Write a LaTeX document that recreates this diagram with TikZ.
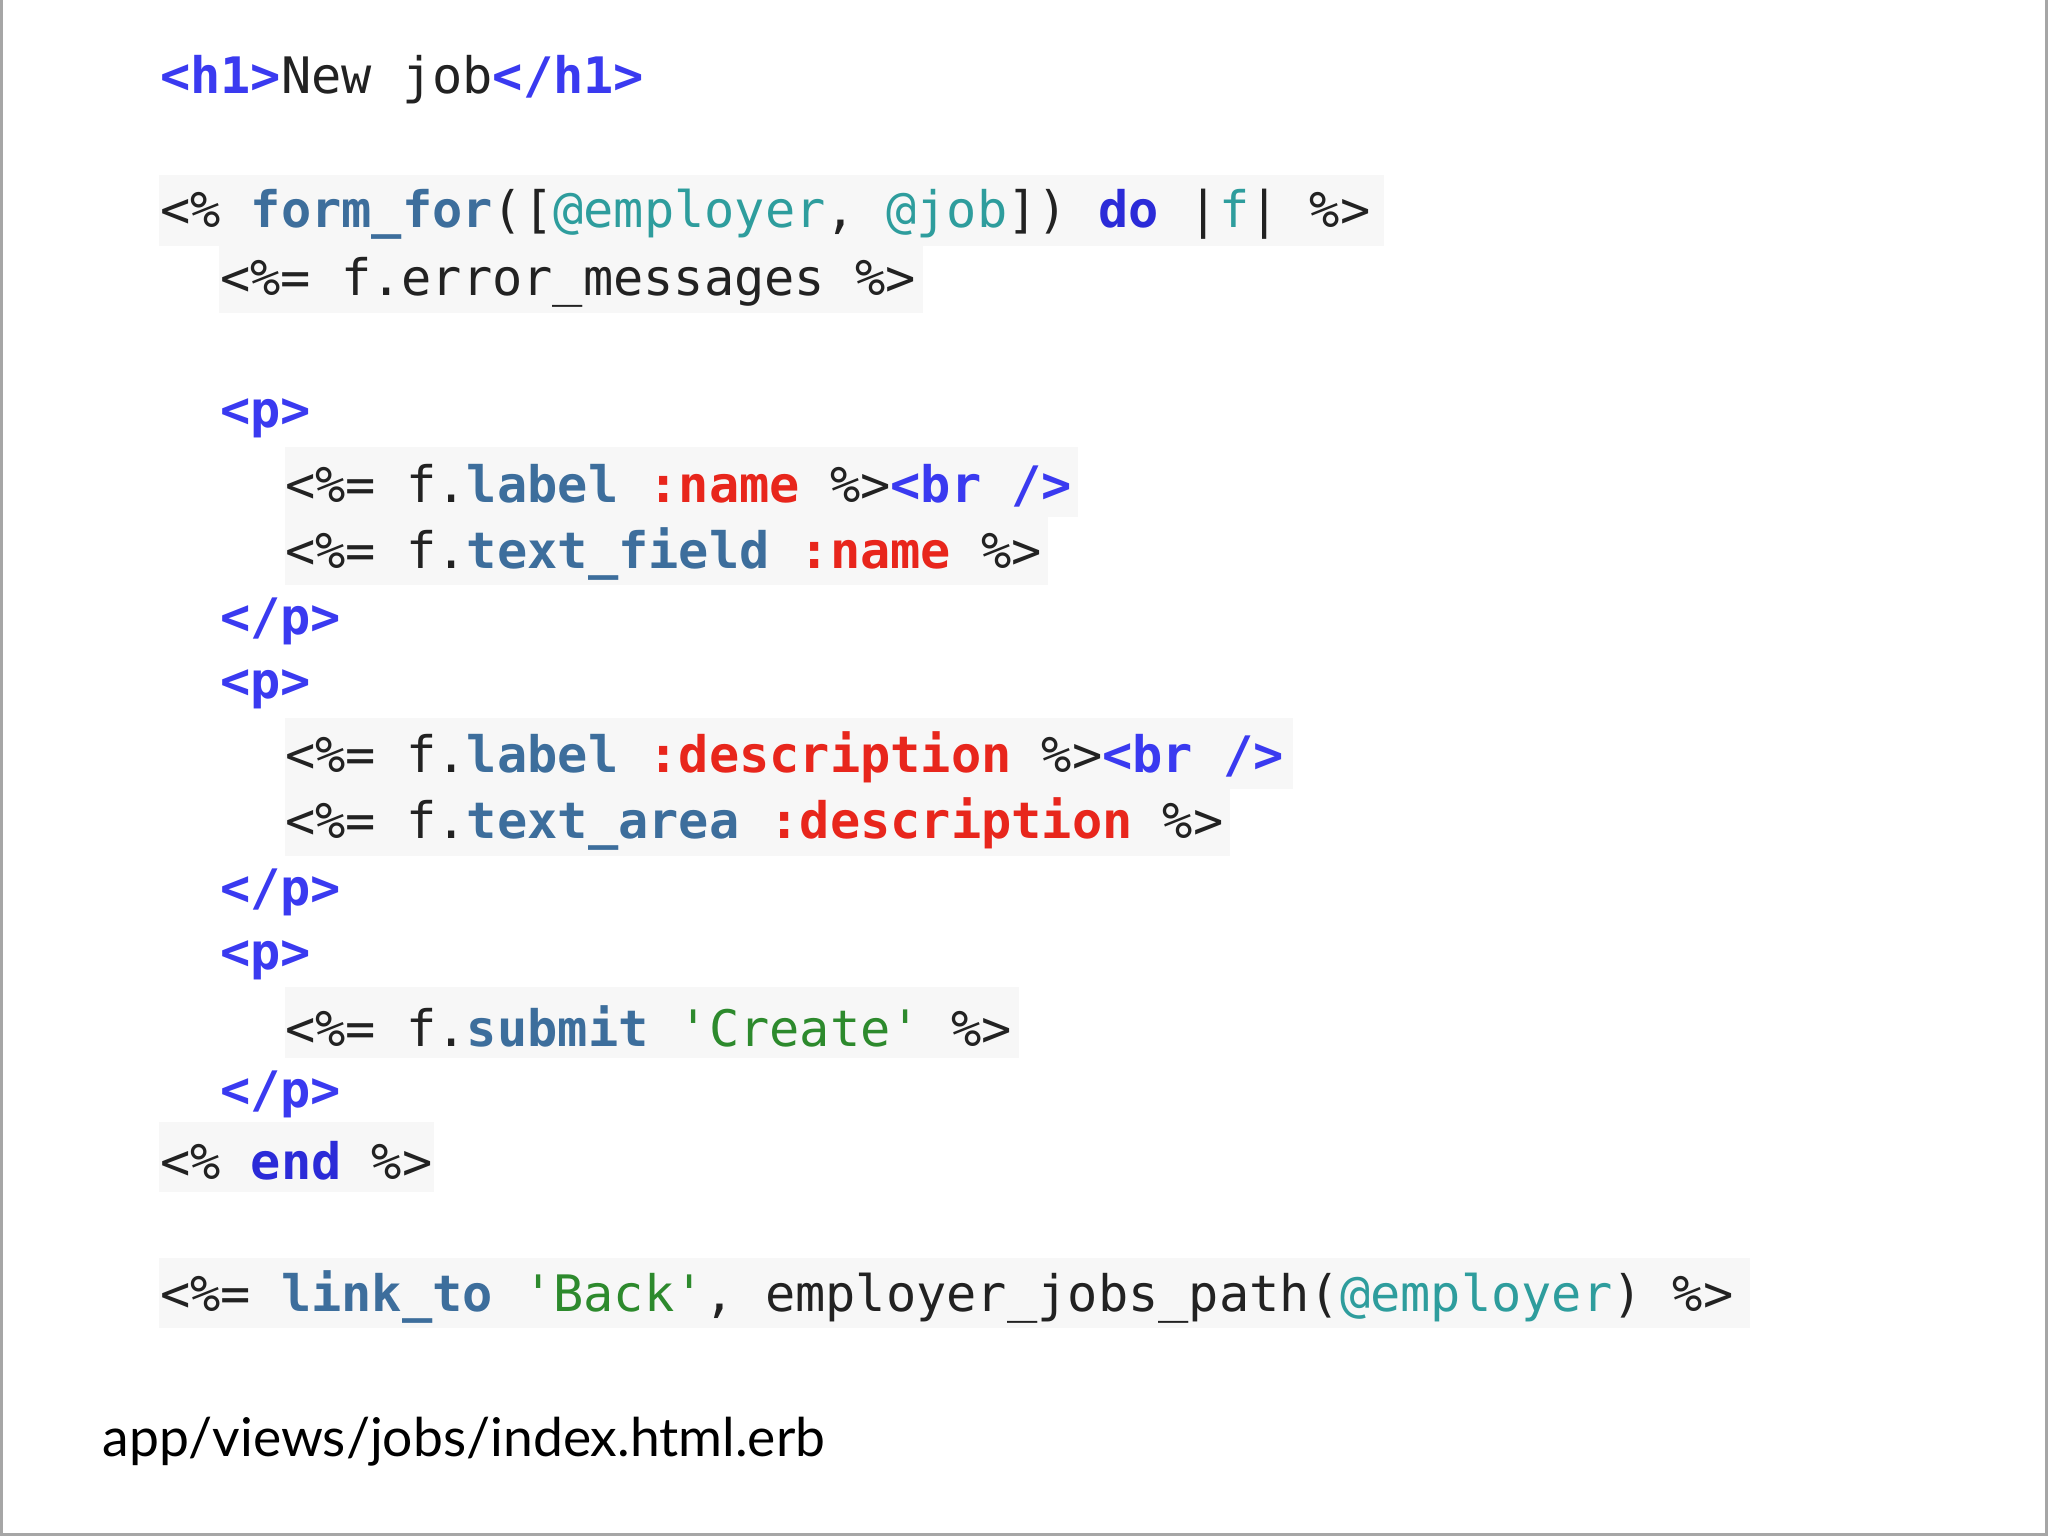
\documentclass[tikz,border=0pt]{standalone}
\usepackage{fontspec}
\setmonofont{DejaVu Sans Mono}
\newfontfamily\labfont{Lato}
\definecolor{tg}{HTML}{3A3AF0}
\definecolor{fn}{HTML}{3D6E9C}
\definecolor{iv}{HTML}{2E9D9D}
\definecolor{sy}{HTML}{E8261C}
\definecolor{st}{HTML}{2D8A2D}
\definecolor{kw}{HTML}{2B2BD8}
\definecolor{tx}{HTML}{222222}
\definecolor{hl}{HTML}{F7F7F7}
\newcommand{\Tg}[1]{\textcolor{tg}{\textbf{#1}}}
\newcommand{\Fn}[1]{\textcolor{fn}{\textbf{#1}}}
\newcommand{\Iv}[1]{\textcolor{iv}{#1}}
\newcommand{\Sy}[1]{\textcolor{sy}{\textbf{#1}}}
\newcommand{\St}[1]{\textcolor{st}{#1}}
\newcommand{\Kw}[1]{\textcolor{kw}{\textbf{#1}}}
\begin{document}
\begin{tikzpicture}[x=0.01306cm,y=-0.01306cm,
  code/.style={anchor=west,inner sep=0,text=tx,font=\ttfamily\fontsize{14.3}{17}\selectfont},
  hlbox/.style={fill=hl,draw=none}]
\useasboundingbox (0,0) rectangle (1568,1176);
\draw[gray!70,line width=1.2pt] (1,0) -- (1,1175) -- (1567,1175) -- (1567,0);
% highlights
\foreach \y/\a/\b in {161/122/1060,213/168/707,369/218/825,421/218/802,577/218/990,628/218/942,783/218/780,886/122/332,990/122/1340}
  \fill[hl] (\a,\y-27) rectangle (\b,\y+27);
\node[code] (l1) at (122,61) {\Tg{<h1>}New job\Tg{</h1>}};
\node[code] (l2) at (122,164) {<\% \Fn{form\_for}([\Iv{@employer}, \Iv{@job}]) \Kw{do} |\Iv{f}| \%>};
\node[code] (l3) at (168,216) {<\%= f.error\_messages \%>};
\node[code] (l4) at (168,320) {\Tg{<p>}};
\node[code] (l5) at (218,372) {<\%= f.\Fn{label} \Sy{:name} \%>\Tg{<br />}};
\node[code] (l6) at (218,424) {<\%= f.\Fn{text\_field} \Sy{:name} \%>};
\node[code] (l7) at (168,476) {\Tg{</p>}};
\node[code] (l8) at (168,528) {\Tg{<p>}};
\node[code] (l9) at (218,580) {<\%= f.\Fn{label} \Sy{:description} \%>\Tg{<br />}};
\node[code] (l10) at (218,631) {<\%= f.\Fn{text\_area} \Sy{:description} \%>};
\node[code] (l11) at (168,683) {\Tg{</p>}};
\node[code] (l12) at (168,735) {\Tg{<p>}};
\node[code] (l13) at (218,786) {<\%= f.\Fn{submit} \St{'Create'} \%>};
\node[code] (l14) at (168,838) {\Tg{</p>}};
\node[code] (l15) at (122,889) {<\% \Kw{end} \%>};
\node[code] (l16) at (122,993) {<\%= \Fn{link\_to} \St{'Back'}, employer\_jobs\_path(\Iv{@employer}) \%>};
\node[anchor=base west,inner sep=0,font=\labfont\fontsize{15.2}{18}\selectfont] (cap) at (78,1115) {app/views/jobs/index.html.erb};
\end{tikzpicture}
\end{document}
